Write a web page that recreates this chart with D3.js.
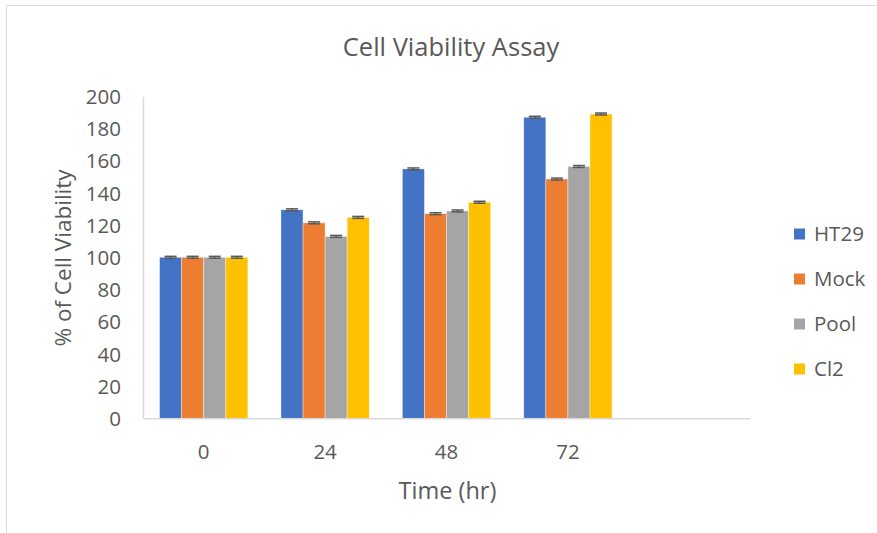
<!DOCTYPE html>
<html><head><meta charset="utf-8">
<script src="https://cdn.jsdelivr.net/npm/d3@7"></script>
<style>
html,body{margin:0;padding:0;background:#fff;}
svg text{font-family:"Open Sans",sans-serif;fill:#595959;}
</style></head>
<body><svg id="c" width="877" height="533"></svg>
<script>
const categories = ["0","24","48","72",""];
const seriesNames = ["HT29","Mock","Pool","Cl2"];
const seriesColors = ["#4472C4","#ED7D31","#A5A5A5","#FFC000"];
const HT29 = [100,129.5,154.9,187.0];
const Mock = [100,121.4,127.1,148.6];
const Pool = [100,113.0,128.8,156.4];
const Cl2  = [100,124.8,134.2,189.0];
const errors = [[0.6,0.6,0.6,0.6],[0.6,0.6,0.6,0.6],[0.6,0.6,0.6,0.6],[0.6,0.6,0.6,0.6]];
const yTicks = [0,20,40,60,80,100,120,140,160,180,200];
const values = [HT29,Mock,Pool,Cl2];

const svg = d3.select("#c");
svg.append("path").attr("d","M6.5,533 V5.5 H877").attr("fill","none").attr("stroke","#d9d9d9").attr("stroke-width",1);

const pL=143, pR=750, pT=96.3, pB=418.3;
const x = d3.scaleBand().domain(categories).range([pL,pR]);
const y = d3.scaleLinear().domain([0,200]).range([pB,pT]);
const bw = x.bandwidth()/(4+1.5);
const xs = d3.scaleBand().domain(seriesNames).range([0,bw*4]);

seriesNames.forEach((s,si)=>{
  const g = svg.append("g");
  const data = values[si].map((v,i)=>({c:categories[i],v,e:errors[si][i]}));
  g.selectAll("rect").data(data).join("rect")
    .attr("x",d=>x(d.c)+bw*0.75+xs(s))
    .attr("y",d=>y(d.v))
    .attr("width",xs.bandwidth())
    .attr("height",d=>y(0)-y(d.v))
    .attr("fill",seriesColors[si])
    .attr("stroke","#ffffff").attr("stroke-opacity",0.5).attr("stroke-width",0.75);
  const eg = g.selectAll("g.err").data(data).join("g").attr("class","err");
  eg.each(function(d){
    const cx = x(d.c)+bw*0.75+xs(s)+xs.bandwidth()/2;
    const sel = d3.select(this);
    sel.append("line").attr("x1",cx).attr("x2",cx).attr("y1",y(d.v+d.e)).attr("y2",y(d.v-d.e)).attr("stroke","#595959").attr("stroke-width",1.5);
    [d.v+d.e,d.v-d.e].forEach(vv=>{
      sel.append("line").attr("x1",cx-6).attr("x2",cx+6).attr("y1",y(vv)).attr("y2",y(vv)).attr("stroke","#595959").attr("stroke-width",1.5);
    });
  });
});

const yAxis = d3.axisLeft(y).tickValues(yTicks).tickSize(0).tickPadding(22);
const ya = svg.append("g").attr("transform",`translate(${pL},0)`).call(yAxis);
ya.select(".domain").attr("stroke","#d9d9d9").attr("stroke-width",1.5);
ya.selectAll("text").attr("font-size",20.5).attr("font-family","Open Sans").attr("fill","#595959").attr("dy","0.35em");

const xAxis = d3.axisBottom(x).tickSize(0).tickPadding(26);
const xa = svg.append("g").attr("transform",`translate(0,${pB})`).call(xAxis);
xa.select(".domain").attr("stroke","#d9d9d9").attr("stroke-width",1.5);
xa.selectAll("text").attr("font-size",20.5).attr("font-family","Open Sans").attr("fill","#595959");

svg.append("text").attr("x",451).attr("y",56).attr("text-anchor","middle").attr("font-size",25.5).text("Cell Viability Assay");
svg.append("text").attr("x",447.5).attr("y",499).attr("text-anchor","middle").attr("font-size",23.5).text("Time (hr)");
svg.append("text").attr("transform","translate(71,258) rotate(-90)").attr("text-anchor","middle").attr("font-size",22.5).text("% of Cell Viability");

const lg = svg.append("g");
seriesNames.forEach((s,i)=>{
  const cy = 234 + i*45;
  lg.append("rect").attr("x",794).attr("y",cy-5.5).attr("width",11).attr("height",11).attr("fill",seriesColors[i]);
  lg.append("text").attr("x",814).attr("y",cy).attr("dy","0.35em").attr("font-size",20.5).text(s);
});
</script></body></html>
